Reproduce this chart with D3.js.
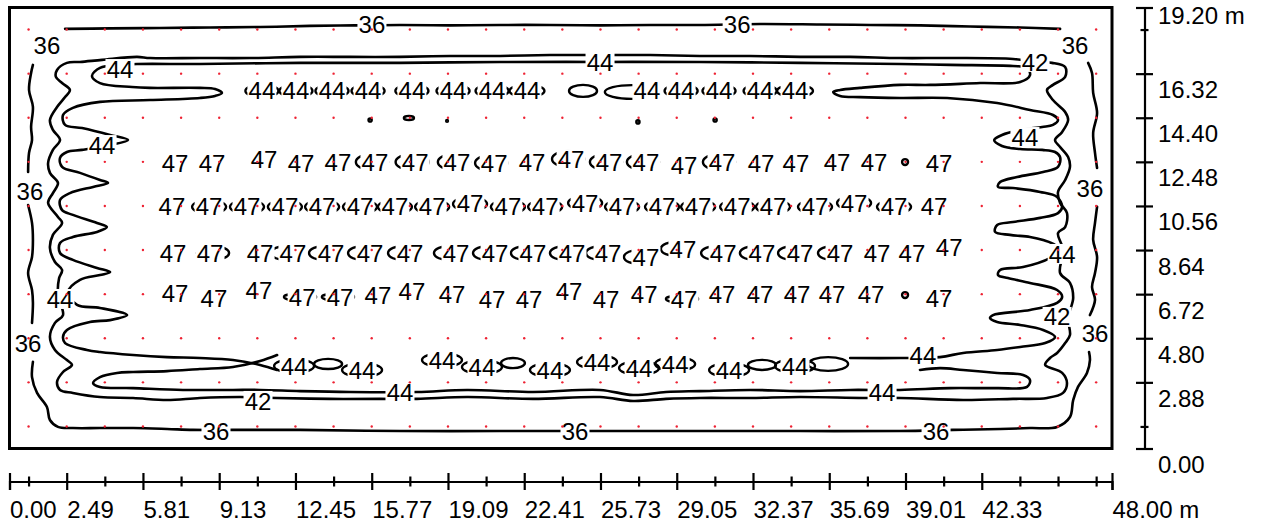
<!DOCTYPE html>
<html>
<head>
<meta charset="utf-8">
<script src="https://cdn.jsdelivr.net/npm/d3@7"></script>
<style>
  body { margin: 0; background: #fff; }
  svg { display: block; }
  .iso { fill: none; stroke: #000; stroke-width: 2.6; stroke-linejoin: round; stroke-linecap: round; }
  .loop { fill: none; stroke: #000; stroke-width: 2.4; }
  .lab { font-family: "Liberation Sans", Arial, sans-serif; font-size: 24px; fill: #000; }
  .axis text { font-family: "Liberation Sans", Arial, sans-serif; font-size: 24px; fill: #000; }
  .axis path, .axis line { stroke: #000; stroke-width: 2.2; }
</style>
</head>
<body>
<div id="PLOT"></div>
<script>
// ------------------------- data (metres) ------------------------//

// calculation points
var gridX = [0.83, 2.49, 4.15, 5.81, 7.47, 9.13, 10.79, 12.45, 14.11, 15.77, 17.43, 19.09, 20.75, 22.41, 24.07,
  25.73, 27.39, 29.05, 30.71, 32.37, 34.03, 35.69, 37.35, 39.01, 40.67, 42.33, 43.99, 45.65, 47.31];
var gridY = [0.96, 2.88, 4.80, 6.72, 8.64, 10.56, 12.48, 14.40, 16.32, 18.24];

// scale ticks
var xMajor = [0, 2.49, 5.81, 9.13, 12.45, 15.77, 19.09, 22.41, 25.73, 29.05, 32.37, 35.69, 39.01, 42.33, 48];
var xMinor = [0.83, 4.15, 7.47, 10.79, 14.11, 17.43, 20.75, 24.07, 27.39, 30.71, 34.03, 37.35, 40.67, 43.99, 45.65, 47.31];
var yMajor = [0, 2.88, 4.80, 6.72, 8.64, 10.56, 12.48, 14.40, 16.32, 19.2];
var yMinor = [0.96, 18.24];

// isolines
var iso36Top = [[2.42,18.27],[4.38,18.29],[6.55,18.31],[8.73,18.33],[10.91,18.35],[13.08,18.40],[15.04,18.42],[17.00,18.44],
  [19.18,18.42],[21.36,18.44],[23.53,18.44],[25.71,18.42],[27.89,18.44],[30.06,18.44],[32.68,18.48],[35.29,18.46],
  [37.47,18.44],[39.64,18.42],[41.82,18.37],[44.00,18.33],[45.74,18.27]];
var iso36LeftUp = [[1.02,16.70],[0.94,16.35],[0.85,15.61],[1.02,14.87],[0.94,14.00],[0.98,13.43],[0.85,12.87],[0.81,12.04]];
var iso36LeftMid = [[0.81,10.60],[0.98,9.82],[1.02,9.08],[0.98,8.34],[0.81,7.64],[0.98,6.90],[1.02,6.34],[0.98,5.47]];
var iso36Bottom = [[1.02,3.77],[0.98,3.11],[1.20,2.42],[1.63,1.81],[1.76,1.24],[2.11,0.94],[2.76,0.89],[3.94,0.89],
  [5.38,0.89],[6.86,0.85],[7.99,0.81],[9.73,0.81],[12.65,0.81],[17.00,0.76],[21.36,0.76],[25.71,0.76],[30.06,0.76],
  [34.42,0.76],[38.77,0.76],[41.08,0.81],[43.13,0.85],[44.43,0.89],[45.61,0.94],[46.17,1.37],[46.31,2.11],
  [46.52,2.68],[46.91,3.29],[47.04,3.85],[47.00,4.20]];
var iso36RightMid = [[47.04,5.81],[47.26,6.47],[47.13,7.03],[47.26,7.64],[47.35,8.34],[47.18,9.08],[47.26,9.82],[47.35,10.52]];
var iso36RightUp = [[47.35,12.21],[47.26,12.87],[47.18,13.74],[47.35,14.61],[47.18,15.48],[47.13,16.35],[46.96,16.79]];

var iso42 = [[44.65,16.83],[43.69,16.96],[40.95,17.00],[38.77,17.00],[36.60,17.05],[34.42,17.05],[32.24,17.09],
  [30.06,17.09],[27.89,17.13],[25.71,17.13],[23.53,17.13],[21.36,17.09],[19.18,17.09],[17.00,17.05],[14.83,17.05],
  [12.65,17.05],[10.47,17.00],[8.29,17.00],[6.12,17.00],[5.55,17.05],[4.03,16.92],[3.07,16.83],[2.50,16.79],
  [2.07,16.48],[2.02,16.18],[2.29,15.91],[2.63,15.61],[2.42,15.30],[2.07,14.87],[1.76,14.30],[1.89,13.87],
  [2.20,13.43],[1.89,13.00],[1.68,12.43],[1.76,12.00],[2.11,11.56],[1.89,11.12],[1.68,10.69],[2.11,10.08],
  [2.29,9.82],[1.89,9.30],[1.76,8.73],[1.98,8.12],[2.29,7.77],[2.16,7.42],[2.11,6.68],[2.33,5.81],[1.98,5.47],
  [1.76,4.86],[1.98,4.29],[2.50,3.85],[2.72,3.64],[2.33,3.33],[2.07,2.90],[2.20,2.55],[2.76,2.42],[3.94,2.24],
  [5.38,2.20],[6.86,2.11],[8.29,2.20],[10.04,2.24],[11.65,2.20],[13.95,2.16],[16.13,2.16],[17.74,2.16],
  [19.92,2.24],[22.79,2.16],[25.71,2.24],[27.15,2.07],[28.58,2.16],[30.06,2.20],[32.24,2.20],[34.42,2.24],
  [37.16,2.20],[38.77,2.20],[41.52,2.11],[43.69,2.16],[45.17,2.20],[45.87,2.42],[46.04,2.85],[45.83,3.29],
  [45.09,3.64],[45.30,3.94],[45.61,4.16],[45.96,4.59],[46.17,4.94],[46.09,5.68],[46.31,6.55],[46.17,7.21],
  [45.74,7.64],[45.87,8.64],[45.65,9.38],[45.96,9.64],[46.04,10.25],[45.74,10.69],[45.65,11.17],[45.96,11.69],
  [46.17,12.26],[46.09,12.69],[45.74,13.13],[45.52,13.43],[45.83,13.78],[46.09,14.30],[45.96,14.65],[45.43,15.17],
  [45.17,15.61],[45.43,15.83],[45.96,16.18],[45.96,16.61],[45.39,16.79],[44.65,16.83]];

var iso44 = [[11.65,3.42],[10.91,3.64],[9.73,3.85],[8.29,3.94],[6.86,3.98],[5.38,4.07],[3.94,4.20],[3.37,4.29],
  [2.42,4.59],[2.33,4.86],[2.50,5.16],[3.50,5.51],[4.38,5.59],[5.12,5.81],[3.94,6.12],[2.94,6.25],[2.55,6.81],
  [3.07,7.34],[3.94,7.55],[4.38,7.68],[3.81,7.86],[2.76,8.21],[2.20,8.51],[2.20,8.95],[2.76,9.21],[3.81,9.43],
  [4.24,9.64],[3.81,9.82],[2.76,10.17],[2.29,10.38],[2.20,10.82],[2.63,11.12],[3.64,11.39],[4.29,11.56],
  [3.94,11.69],[3.07,12.00],[2.29,12.26],[2.20,12.65],[2.50,12.91],[3.16,13.00],[4.38,13.21],[5.16,13.43],
  [4.38,13.65],[3.16,13.95],[2.42,14.09],[2.33,14.52],[2.76,14.83],[3.94,15.09],[6.12,15.17],[8.29,15.26],
  [8.95,15.35],[9.25,15.48],[8.95,15.65],[8.29,15.70],[6.12,15.70],[5.33,15.74],[3.94,15.91],[3.59,16.22],
  [3.94,16.57],[4.81,16.70],[5.55,16.74],[8.29,16.74],[12.65,16.79],[17.00,16.79],[21.36,16.83],[25.71,16.83],
  [30.06,16.83],[34.42,16.79],[38.77,16.74],[40.95,16.70],[43.69,16.65],[44.30,16.57],[44.43,16.26],[44.00,15.96],
  [42.26,15.91],[40.08,15.83],[38.77,15.83],[37.03,15.70],[36.16,15.61],[35.86,15.52],[36.16,15.35],[37.03,15.30],
  [38.77,15.26],[40.82,15.26],[43.00,15.04],[44.43,14.74],[45.43,14.52],[45.65,14.30],[45.43,14.09],[44.96,14.00],
  [44.00,13.87],[43.21,13.65],[42.87,13.43],[43.21,13.17],[44.00,13.04],[44.96,13.00],[45.52,12.91],[45.74,12.69],
  [45.65,12.26],[45.00,12.04],[43.87,11.82],[43.13,11.60],[43.04,11.39],[43.69,11.34],[44.87,11.17],[45.61,10.95],
  [45.83,10.52],[45.65,10.25],[44.87,10.04],[43.69,9.86],[43.00,9.73],[42.91,9.43],[43.56,9.30],[44.43,9.21],
  [45.00,9.08],[45.52,8.86],[45.65,8.56],[45.30,8.29],[44.13,7.90],[43.13,7.77],[43.04,7.55],[43.47,7.42],
  [44.43,7.21],[45.61,6.90],[45.83,6.60],[45.61,6.34],[44.43,6.03],[42.82,5.81],[42.69,5.68],[43.00,5.51],
  [44.00,5.38],[45.00,5.16],[45.52,4.86],[45.09,4.59],[44.00,4.42],[43.00,4.29],[41.52,4.16],[40.51,3.98],
  [38.77,3.94],[36.60,3.94]];
var iso44Strip = [[11.65,4.07],[10.91,3.81],[9.73,3.55],[8.29,3.46],[6.86,3.37],[5.38,3.33],[4.68,3.29],[3.94,3.11],
  [3.64,2.85],[3.94,2.68],[5.38,2.63],[7.55,2.55],[9.73,2.55],[10.91,2.55],[12.65,2.50],[14.83,2.46],[17.74,2.46],
  [19.92,2.55],[22.79,2.46],[25.71,2.55],[27.15,2.33],[28.58,2.46],[30.06,2.50],[32.24,2.55],[34.42,2.50],
  [36.60,2.55],[38.77,2.55],[40.95,2.63],[43.00,2.63],[44.30,2.68],[44.43,2.98],[44.13,3.20],[43.00,3.29],
  [41.52,3.42],[40.51,3.50],[39.64,3.42]];

// small closed isolines: centre x, centre y, half width, half height
var loops44Top = [[10.99,15.57,0.72,0.26],[12.47,15.57,0.72,0.26],[14.04,15.57,0.72,0.26],[15.61,15.57,0.72,0.26],
  [17.52,15.57,0.72,0.26],[19.31,15.57,0.72,0.26],[21.01,15.57,0.72,0.26],[22.53,15.57,0.76,0.26],
  [24.97,15.57,0.61,0.26],[27.10,15.52,1.18,0.30],[29.24,15.57,0.72,0.26],[30.89,15.57,0.72,0.26],
  [32.68,15.57,0.72,0.26],[34.20,15.57,0.78,0.26]];
var loops44Bottom = [[12.39,3.59,0.87,0.30],[13.87,3.68,0.61,0.22],[15.35,3.42,0.87,0.30],[18.83,3.85,0.87,0.30],
  [20.57,3.55,0.87,0.30],[21.92,3.72,0.52,0.22],[23.53,3.42,0.87,0.30],[25.58,3.77,0.87,0.30],[27.41,3.50,0.87,0.30],
  [28.98,3.68,0.87,0.30],[31.33,3.42,0.87,0.30],[32.76,3.64,0.61,0.22],[34.20,3.59,0.87,0.30],[35.64,3.68,0.87,0.30]];
var loops44Specks = [[15.70,14.30,0.07,0.07],[17.39,14.39,0.22,0.09],[19.05,14.26,0.04,0.04],
  [27.36,14.22,0.07,0.07],[30.72,14.30,0.07,0.07]];
var loops47 = [
  [15.78,12.47,0.70,0.35],[17.53,12.47,0.72,0.35],[19.35,12.47,0.70,0.35],[20.97,12.43,0.70,0.35],
  [24.32,12.60,0.70,0.35],[25.97,12.47,0.70,0.35],[27.58,12.47,0.70,0.35],[30.89,12.47,0.70,0.35],
  [38.99,12.47,0.13,0.13],
  [8.69,10.52,0.74,0.30],[10.34,10.52,0.74,0.30],[11.99,10.52,0.74,0.30],[13.61,10.52,0.74,0.30],
  [15.26,10.52,0.74,0.30],[16.78,10.52,0.74,0.30],[18.40,10.52,0.74,0.30],[20.05,10.65,0.74,0.30],
  [21.70,10.52,0.74,0.30],[23.32,10.52,0.74,0.30],[25.06,10.69,0.74,0.30],[26.67,10.52,0.74,0.30],
  [28.41,10.52,0.74,0.30],[29.98,10.52,0.74,0.30],[31.68,10.52,0.74,0.30],[33.24,10.52,0.74,0.30],
  [35.07,10.52,0.74,0.30],[36.77,10.69,0.74,0.30],[38.51,10.52,0.74,0.30],
  [8.86,8.51,0.70,0.30],[12.12,8.51,0.74,0.32],[13.78,8.51,0.74,0.32],[15.48,8.51,0.74,0.32],
  [17.22,8.51,0.74,0.32],[19.22,8.51,0.74,0.32],[20.92,8.51,0.74,0.32],[22.57,8.51,0.74,0.32],
  [24.27,8.51,0.74,0.32],[25.84,8.51,0.74,0.32],[27.49,8.34,0.74,0.32],[29.10,8.69,0.74,0.32],
  [30.85,8.51,0.74,0.32],[32.54,8.51,0.74,0.32],[34.20,8.51,0.74,0.32],[35.94,8.51,0.74,0.32],
  [12.65,6.60,0.70,0.15],[14.30,6.60,0.70,0.15],[29.28,6.51,0.70,0.15],[38.99,6.68,0.13,0.13]];

// label anchors
var lab36 = [[1.63,17.53],[15.78,18.48],[31.68,18.48],[46.39,17.57],[0.89,11.21],[47.04,11.34],[0.81,4.59],
  [47.26,5.03],[8.99,0.76],[24.62,0.76],[40.34,0.76]];
var lab42 = [[44.65,16.83],[45.61,5.73],[10.82,2.07]];
var lab44 = [[4.81,16.52],[25.71,16.83],[4.03,13.21],[44.21,13.56],[45.83,8.47],[2.20,6.51],[17.00,2.46],[37.99,2.46],
  [10.99,15.57],[12.47,15.57],[14.04,15.57],[15.61,15.57],[17.52,15.57],[19.31,15.57],[21.01,15.57],[22.53,15.57],
  [27.75,15.57],[29.24,15.57],[30.89,15.57],[32.68,15.57],[34.20,15.57],
  [12.39,3.59],[15.35,3.42],[18.83,3.85],[20.57,3.55],[23.53,3.42],[25.58,3.77],[27.41,3.50],[28.98,3.68],
  [31.33,3.42],[34.20,3.59],[39.77,4.07]];
var lab47 = [
  [7.21,12.43],[8.82,12.43],[11.08,12.60],[12.69,12.43],[14.30,12.47],[15.91,12.47],[17.66,12.47],[19.48,12.47],
  [21.10,12.43],[22.75,12.47],[24.45,12.60],[26.10,12.47],[27.71,12.47],[29.37,12.34],[31.02,12.47],[32.72,12.43],
  [34.24,12.43],[36.03,12.47],[37.64,12.47],[40.47,12.43],
  [7.07,10.52],[8.69,10.52],[10.34,10.52],[11.99,10.52],[13.61,10.52],[15.26,10.52],[16.78,10.52],[18.40,10.52],
  [20.05,10.65],[21.70,10.52],[23.32,10.52],[25.06,10.69],[26.67,10.52],[28.41,10.52],[29.98,10.52],[31.68,10.52],
  [33.24,10.52],[35.07,10.52],[36.77,10.69],[38.51,10.52],[40.25,10.52],
  [7.12,8.51],[8.73,8.51],[10.91,8.51],[12.34,8.51],[14.00,8.51],[15.70,8.51],[17.44,8.51],[19.44,8.51],
  [21.14,8.51],[22.79,8.51],[24.49,8.51],[26.06,8.51],[27.71,8.34],[29.32,8.69],[31.07,8.51],[32.76,8.51],
  [34.42,8.51],[36.16,8.51],[37.77,8.51],[39.29,8.51],[40.91,8.77],
  [7.21,6.77],[8.90,6.55],[10.86,6.90],[12.74,6.60],[14.39,6.60],[16.04,6.68],[17.52,6.86],[19.27,6.73],
  [21.01,6.51],[22.62,6.51],[24.36,6.86],[25.97,6.51],[27.63,6.73],[29.37,6.51],[31.02,6.73],[32.68,6.73],
  [34.29,6.73],[35.81,6.73],[37.51,6.73],[40.47,6.55]];

// ------------------------- svg init ------------------------//

var width = 1264,
  height = 524;

var svg = d3.select("#PLOT").append("svg")
  .attr("width", width)
  .attr("height", height);

var x = d3.scaleLinear().domain([0, 48]).range([9.5, 1112]);
var y = d3.scaleLinear().domain([0, 19.2]).range([448.5, 7.5]);

var isoLine = d3.line()
  .x(function (d) { return x(d[0]); })
  .y(function (d) { return y(d[1]); })
  .curve(d3.curveCatmullRom.alpha(0.5));

// ------------------------- isolines ------------------------//

svg.append("g").selectAll("path")
  .data([iso36Top, iso36LeftUp, iso36LeftMid, iso36Bottom, iso36RightMid, iso36RightUp, iso42, iso44, iso44Strip])
  .enter().append("path")
  .attr("class", "iso")
  .attr("d", isoLine);

svg.append("g").selectAll("ellipse")
  .data([].concat(loops44Top, loops44Bottom, loops44Specks, loops47))
  .enter().append("ellipse")
  .attr("class", "loop")
  .attr("cx", function (d) { return x(d[0]); })
  .attr("cy", function (d) { return y(d[1]); })
  .attr("rx", function (d) { return x(d[2]) - x(0); })
  .attr("ry", function (d) { return y(0) - y(d[3]); });

// ------------------------- labels ------------------------//

function addLabels(list, txt) {
  var g = svg.append("g").selectAll("g")
    .data(list)
    .enter().append("g")
    .attr("transform", function (d) { return "translate(" + x(d[0]) + "," + y(d[1]) + ")"; });
  g.append("rect")
    .attr("x", -14.5).attr("y", -10)
    .attr("width", 29).attr("height", 20)
    .attr("fill", "#fff");
  g.append("text")
    .attr("class", "lab")
    .attr("text-anchor", "middle")
    .attr("y", 8.6)
    .text(txt);
}

addLabels(lab36, "36");
addLabels(lab42, "42");
addLabels(lab44, "44");
addLabels(lab47, "47");

// calculation points
var pts = [];
gridY.forEach(function (gy) { gridX.forEach(function (gx) { pts.push([gx, gy]); }); });
svg.append("g").selectAll("circle")
  .data(pts)
  .enter().append("circle")
  .attr("cx", function (d) { return x(d[0]); })
  .attr("cy", function (d) { return y(d[1]); })
  .attr("r", 1.2)
  .attr("fill", "#ee2233");

// frame
svg.append("rect")
  .attr("x", x(0)).attr("y", y(19.2))
  .attr("width", x(48) - x(0)).attr("height", y(0) - y(19.2))
  .attr("fill", "none").attr("stroke", "#000").attr("stroke-width", 3);

// ------------------------- scales ------------------------//

var fmt = d3.format(".2f");

var xAxisG = svg.append("g").attr("class", "axis").attr("transform", "translate(0,481.5)");
xAxisG.call(d3.axisBottom(x).tickValues(xMajor).tickSizeOuter(0).tickSize(8.5)
  .tickFormat(function (d) { return fmt(d) + (d === 48 ? " m" : ""); }));
xAxisG.selectAll(".tick line").attr("y1", -8.5);
xAxisG.selectAll(".tick text").attr("y", 36.5).attr("dy", null).attr("text-anchor", "start");

var xMinorG = svg.append("g").attr("class", "axis").attr("transform", "translate(0,481.5)");
xMinorG.call(d3.axisBottom(x).tickValues(xMinor).tickSize(5).tickFormat(""));
xMinorG.select(".domain").remove();
xMinorG.selectAll(".tick line").attr("y1", -5);

var yAxisG = svg.append("g").attr("class", "axis").attr("transform", "translate(1144.5,0)");
yAxisG.call(d3.axisRight(y).tickValues(yMajor).tickSizeOuter(0).tickSize(8.5)
  .tickFormat(function (d) { return fmt(d) + (d === 19.2 ? " m" : ""); }));
yAxisG.selectAll(".tick line").attr("x1", -8.5);
yAxisG.selectAll(".tick text")
  .attr("x", 13.5).attr("dy", null)
  .attr("y", function (d) { return d === 19.2 ? 16 : 24; })
  .attr("text-anchor", "start");

var yMinorG = svg.append("g").attr("class", "axis").attr("transform", "translate(1144.5,0)");
yMinorG.call(d3.axisRight(y).tickValues(yMinor).tickSize(4).tickFormat(""));
yMinorG.select(".domain").remove();
yMinorG.selectAll(".tick line").attr("x1", -4);
</script>
</body>
</html>
